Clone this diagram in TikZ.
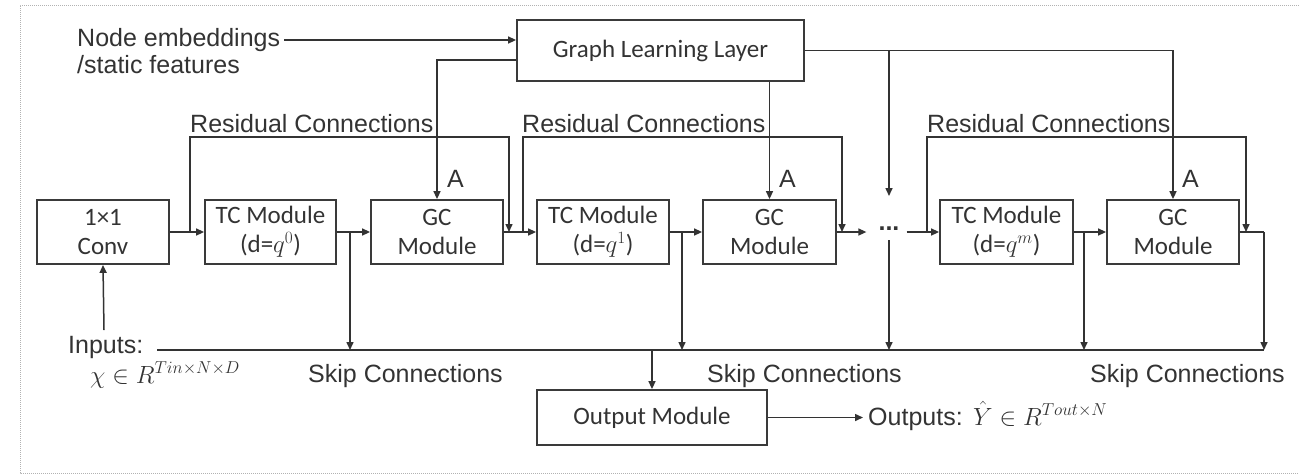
\documentclass[tikz,border=0pt]{standalone}
\usepackage{fontspec}
\setmainfont{Liberation Sans}
\newfontfamily\boxfont{Carlito}
\usetikzlibrary{arrows.meta}
\definecolor{ink}{HTML}{333333}
\definecolor{boxc}{HTML}{3A3A3A}
\newcommand{\mathsz}{\fontsize{23}{27}\selectfont}
\begin{document}
\begin{tikzpicture}[x=1pt,y=-1pt,
  box/.style={draw=boxc, line width=1.8pt, minimum height=64pt, inner sep=0pt,
    font=\boxfont\fontsize{25}{29}\selectfont, align=center, text=ink},
  lbl/.style={font=\fontsize{25}{30}\selectfont, text=ink, inner sep=0pt},
  conn/.style={draw=ink, line width=1.5pt, -{Triangle[length=8pt,width=7pt]}},
  wire/.style={draw=ink, line width=1.5pt}]
\useasboundingbox (0,0) rectangle (1299,475);
\draw[gray!60, densely dotted, line width=1pt] (1299,5) -- (20,5) -- (20,473) -- (1299,473);

% boxes
\node[box, minimum width=132pt] (conv) at (103,232) {1×1\\Conv};
\node[box, minimum width=131pt] (tc1) at (270.5,232) {TC Module\\(d=$q^{0}$)};
\node[box, minimum width=132pt] (gc1) at (437,232) {GC\\Module};
\node[box, minimum width=132pt] (tc2) at (603,232) {TC Module\\(d=$q^{1}$)};
\node[box, minimum width=133pt] (gc2) at (769.5,232) {GC\\Module};
\node[box, minimum width=133pt] (tc3) at (1006.5,232) {TC Module\\(d=$q^{m}$)};
\node[box, minimum width=132pt] (gc3) at (1173,232) {GC\\Module};
\node[box, minimum width=287pt, minimum height=61pt] (gll) at (660.5,50.5) {Graph Learning Layer};
\node[box, minimum width=230pt, minimum height=55pt] (out) at (652,417.5) {Output Module};
\node[lbl, anchor=base] (dots) at (889,230) {\textbf{...}};

% labels
\node[lbl, anchor=base west] (emb1) at (77,46) {Node embeddings};
\node[lbl, anchor=base west] (emb2) at (77,73) {/static features};
\node[lbl, anchor=base west] (res1) at (190,132) {Residual Connections};
\node[lbl, anchor=base west] (res2) at (522,132) {Residual Connections};
\node[lbl, anchor=base west] (res3) at (927,132) {Residual Connections};
\node[lbl, anchor=base west] (a1) at (447,187) {A};
\node[lbl, anchor=base west] (a2) at (779,187) {A};
\node[lbl, anchor=base west] (a3) at (1182,187) {A};
\node[lbl, anchor=base west] (inputs) at (68,353) {Inputs:};
\node[lbl, anchor=base west, font=\mathsz] (chi) at (90,383) {$\chi\in R^{T in\times N\times D}$};
\node[lbl, anchor=base west] (sk1) at (308,382) {Skip Connections};
\node[lbl, anchor=base west] (sk2) at (707,382) {Skip Connections};
\node[lbl, anchor=base west] (sk3) at (1090,382) {Skip Connections};
\node[lbl, anchor=base west] (outs) at (868,425) {Outputs:};
\node[lbl, anchor=base west, font=\mathsz] (outm) at (973,425) {$\hat{Y}\in R^{T out\times N}$};

% coordinates
\coordinate (inp) at (104,330);
\coordinate (r1a) at (190,232); \coordinate (r1b) at (509,232);
\coordinate (r2a) at (523,232); \coordinate (r2b) at (842,232);
\coordinate (r3a) at (927,232); \coordinate (r3b) at (1246,232);
\coordinate (s1) at (350,232); \coordinate (s2) at (682,232);
\coordinate (s4) at (1084,232); \coordinate (s5) at (1264,232);
\coordinate (skL) at (157,350); \coordinate (skR) at (1264,350);

% top inputs
\draw[conn] ([xshift=4pt]emb1.east |- 0,40) -- (gll.west |- 0,40);
\draw[conn] (gll.west |- 0,60) -| (gc1.north);
\draw[conn] (gc2.north |- gll.south) -- (gc2.north);
\draw[conn] (gll.east) -| (gc3.north);
\draw[conn] (dots.north |- gll.east) -- (dots.north |- 0,196);

% main chain
\draw[conn] (inp) -- (conv.south);
\draw[conn] (conv.east) -- (tc1.west);
\draw[conn] (tc1.east) -- (gc1.west);
\draw[conn] (gc1.east) -- (tc2.west);
\draw[conn] (tc2.east) -- (gc2.west);
\draw[conn, shorten >=12pt] (gc2.east) -- (dots.west |- gc2.east);
\draw[conn, shorten <=7pt] (dots.east |- tc3.west) -- (tc3.west);
\draw[conn] (tc3.east) -- (gc3.west);
\draw[wire] (gc3.east) -- (s5);

% residuals
\draw[conn] (r1a) -- ++(0,-95) -| (r1b);
\draw[conn] (r2a) -- ++(0,-95) -| (r2b);
\draw[conn] (r3a) -- ++(0,-95) -| (r3b);

% skip connections
\draw[wire] (skL) -- (skR);
\draw[conn] (s1) -- (s1 |- skL);
\draw[conn] (s2) -- (s2 |- skL);
\draw[conn] (dots.south |- 0,240) -- (dots.south |- skL);
\draw[conn] (s4) -- (s4 |- skL);
\draw[conn] (s5) -- (skR);

% output
\draw[conn] (out.north |- skL) -- (out.north);
\draw[conn, shorten >=5pt] (out.east) -- (outs.west |- out.east);
\end{tikzpicture}
\end{document}
